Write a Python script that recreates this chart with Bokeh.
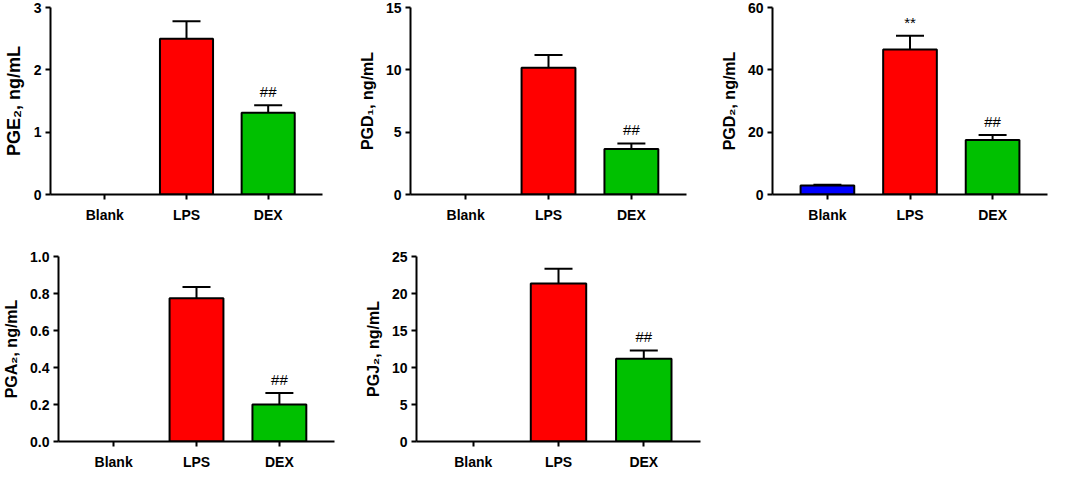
from bokeh.plotting import figure
from bokeh.models import ColumnDataSource, FactorRange, FixedTicker, Whisker, TeeHead, PrintfTickFormatter, Range1d
from bokeh.layouts import column, row
from bokeh.embed import file_html
from bokeh.resources import INLINE
from bokeh.core.properties import value

groups = ["Blank", "LPS", "DEX"]
bar_colors = ["#0000FF", "#FF0000", "#00C000"]

pge2_mean = [0.0, 2.50, 1.31]
pge2_upper = [0.0, 2.78, 1.43]
pge2_marks = ["", "", "##"]
pge2_ticks = [0, 1, 2, 3]

pgd1_mean = [0.0, 10.16, 3.65]
pgd1_upper = [0.0, 11.19, 4.10]
pgd1_marks = ["", "", "##"]
pgd1_ticks = [0, 5, 10, 15]

pgd2_mean = [2.9, 46.5, 17.5]
pgd2_upper = [3.1, 50.9, 19.1]
pgd2_marks = ["", "**", "##"]
pgd2_ticks = [0, 20, 40, 60]

pga2_mean = [0.0, 0.775, 0.20]
pga2_upper = [0.0, 0.835, 0.262]
pga2_marks = ["", "", "##"]
pga2_ticks = [0, 0.2, 0.4, 0.6, 0.8, 1.0]

pgj2_mean = [0.0, 21.35, 11.17]
pgj2_upper = [0.0, 23.35, 12.3]
pgj2_marks = ["", "", "##"]
pgj2_ticks = [0, 5, 10, 15, 20, 25]

FONT = "Liberation Sans"


def panel(label, mean, upper, marks, ticks, fmt, label_size, w, h, bl, br, bt, bb):
    p = figure(width=w, height=h, x_range=FactorRange(*groups, range_padding=0.11),
               y_range=Range1d(0, ticks[-1]), output_backend="svg", toolbar_location=None,
               min_border_left=bl, min_border_right=br, min_border_top=bt, min_border_bottom=bb)
    p.outline_line_color = None
    p.xgrid.visible = False
    p.ygrid.visible = False
    keep = [i for i, m in enumerate(mean) if m > 0]
    src = ColumnDataSource(dict(x=[groups[i] for i in keep], top=[mean[i] for i in keep],
                                upper=[upper[i] for i in keep],
                                color=[bar_colors[i] for i in keep],
                                marks=[marks[i] for i in keep]))
    p.add_layout(Whisker(base="x", lower="top", upper="upper", source=src, dimension="height",
                         line_width=2, line_color="black",
                         upper_head=TeeHead(size=28, line_width=2, line_color="black"),
                         lower_head=None, level="underlay"))
    p.vbar(x="x", top="top", width=0.65, source=src, fill_color="color",
           line_color="black", line_width=2)
    p.text(x="x", y="upper", text="marks", source=src, text_align="center",
           text_baseline="bottom", y_offset=-5, text_font=value(FONT),
           text_font_size="15px", text_color="black")
    for ax in (p.xaxis[0], p.yaxis[0]):
        ax.axis_line_width = 2
        ax.axis_line_color = "black"
        ax.major_tick_line_width = 2
        ax.major_tick_line_color = "black"
        ax.major_tick_out = 5
        ax.major_tick_in = 0
        ax.minor_tick_line_color = None
        ax.major_label_text_font = FONT
        ax.major_label_text_font_style = "bold"
        ax.major_label_text_font_size = "14px"
        ax.major_label_text_color = "black"
        ax.major_label_standoff = 4
    p.yaxis[0].ticker = FixedTicker(ticks=ticks)
    if fmt:
        p.yaxis[0].formatter = PrintfTickFormatter(format=fmt)
    p.yaxis[0].axis_label = label
    p.yaxis[0].axis_label_text_font = FONT
    p.yaxis[0].axis_label_text_font_style = "bold"
    p.yaxis[0].axis_label_text_font_size = label_size
    p.yaxis[0].axis_label_text_color = "black"
    p.yaxis[0].axis_label_standoff = 7
    p.xaxis[0].major_label_standoff = 7
    return p


f1 = panel("PGE₂, ng/mL", pge2_mean, pge2_upper, pge2_marks, pge2_ticks, None, "18px",
           350, 226, 46, 28, 7, 32)
f2 = panel("PGD₁, ng/mL", pgd1_mean, pgd1_upper, pgd1_marks, pgd1_ticks, None, "16px",
           360, 226, 60, 24, 7, 32)
f3 = panel("PGD₂, ng/mL", pgd2_mean, pgd2_upper, pgd2_marks, pgd2_ticks, None, "16px",
           339, 226, 62, 2, 7, 32)
f4 = panel("PGA₂, ng/mL", pga2_mean, pga2_upper, pga2_marks, pga2_ticks, "%.1f", "16px",
           361, 246, 52, 27, 30, 28)
f5 = panel("PGJ₂, ng/mL", pgj2_mean, pgj2_upper, pgj2_marks, pgj2_ticks, None, "16px",
           341, 246, 50, 2, 26, 28)

layout = column(row(f1, f2, f3), row(f4, f5))
open("out.html", "w").write(file_html(layout, INLINE))
